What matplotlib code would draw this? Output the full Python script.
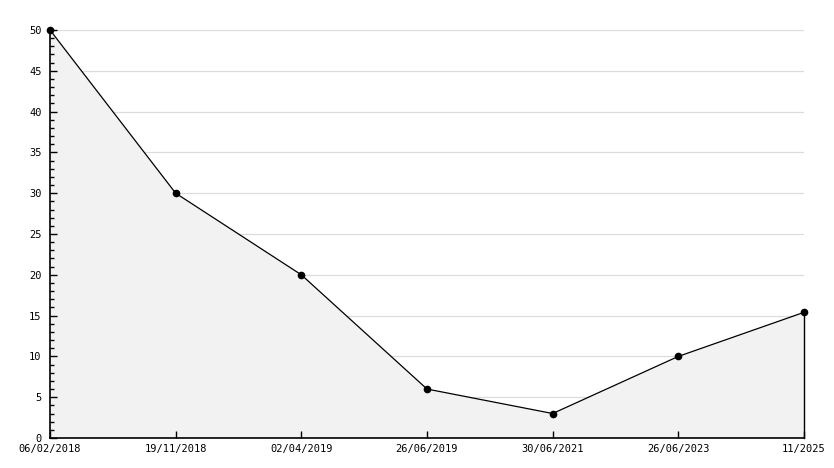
import matplotlib
matplotlib.use("Agg")
import matplotlib.pyplot as plt
from matplotlib.ticker import MultipleLocator

labels = ["06/02/2018", "19/11/2018", "02/04/2019", "26/06/2019", "30/06/2021", "26/06/2023", "11/2025"]
values = [50, 30, 20, 6, 3, 10, 15.4]
grid_levels = [5, 10, 15, 20, 25, 30, 35, 40, 45, 50]

fig = plt.figure(figsize=(8.34, 4.68), dpi=100)
ax = fig.add_axes([50/834, 30/468, 754/834, 408/468])
x = list(range(len(labels)))

for g in grid_levels:
    ax.axhline(g, color="#dcdcdc", lw=0.9, zorder=0)
ax.fill_between(x, values, 0, color="#f2f2f2", lw=0, zorder=1)
ax.plot(x, values, color="black", lw=0.9, marker="o", markersize=4.5, zorder=5, clip_on=False)
ax.plot([x[-1], x[-1]], [0, values[-1]], color="black", lw=1.0, zorder=5, clip_on=False)

ax.set_xlim(0, len(labels) - 1)
ax.set_ylim(0, 50)
ax.set_xticks(x)
ax.set_xticklabels(labels)
ax.yaxis.set_major_locator(MultipleLocator(5))
ax.yaxis.set_minor_locator(MultipleLocator(1))
ax.set_axisbelow(False)

for s in ["top", "right"]:
    ax.spines[s].set_visible(False)
for s in ["left", "bottom"]:
    ax.spines[s].set_linewidth(1.2)
    ax.spines[s].set_zorder(4)

ax.tick_params(axis="y", which="major", direction="in", length=5, width=1, pad=6,
               labelsize=7.5, labelfontfamily="DejaVu Sans Mono")
ax.tick_params(axis="y", which="minor", direction="in", length=3, width=1)
ax.tick_params(axis="x", which="major", direction="in", length=5, width=1, pad=4,
               labelsize=7.5, labelfontfamily="DejaVu Sans Mono")

fig.savefig("out.png", dpi=100)
